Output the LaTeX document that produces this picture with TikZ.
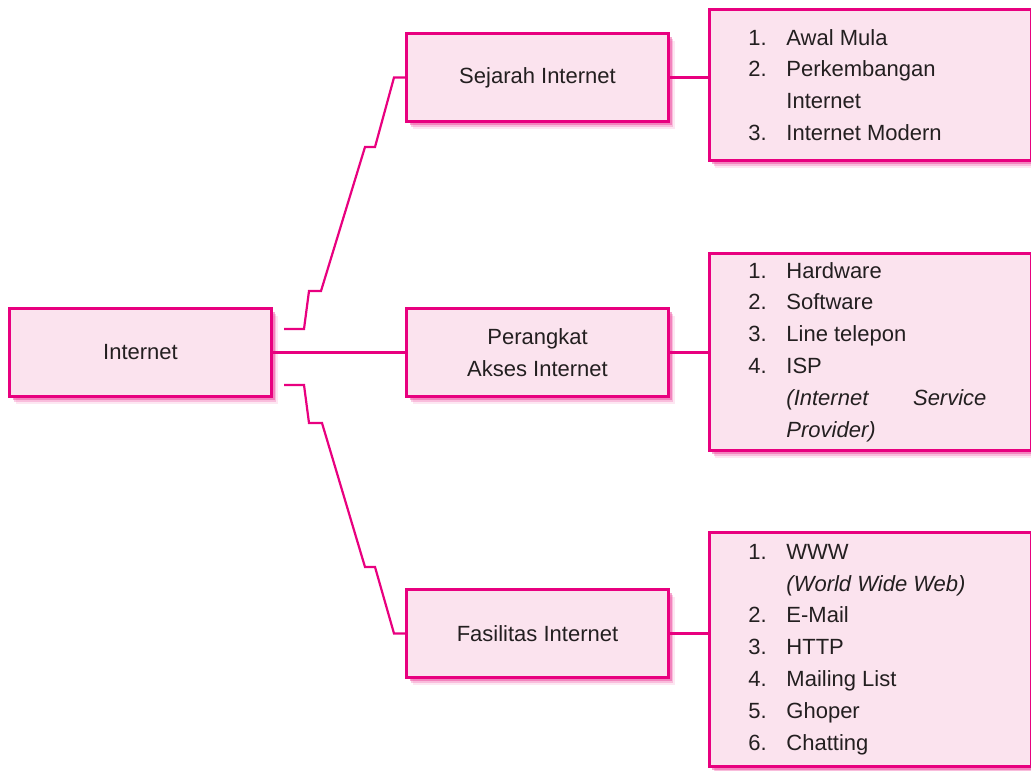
\documentclass[tikz,border=0pt]{standalone}
\usepackage{fontspec}
\setmainfont{Liberation Sans}
\usepackage{enumitem}
\usepackage{tikz}
\usetikzlibrary{calc,shadows}
\definecolor{framecolor}{HTML}{E8007F}
\definecolor{boxfill}{HTML}{FBE3EE}
\definecolor{shadowpink}{HTML}{EC3D97}
\definecolor{inkcolor}{HTML}{231F20}
\tikzstyle{mainbox} = [
    draw=framecolor,
    fill=boxfill,
    line width=2.8pt,
    rectangle,
    inner sep=0pt,
    minimum width=262pt,
    minimum height=88pt,
    align=center,
    drop shadow={shadow xshift=6pt, shadow yshift=-7pt, fill=shadowpink, opacity=0.12},
    drop shadow={shadow xshift=4.5pt, shadow yshift=-5pt, fill=shadowpink, opacity=0.25},
    drop shadow={shadow xshift=3pt, shadow yshift=-3pt, fill=shadowpink, opacity=0.45}
    ]
\tikzstyle{listbox} = [
    mainbox,
    minimum width=316pt,
    inner xsep=39pt
    ]
\tikzstyle{link} = [
    draw=framecolor,
    line width=2.2pt
    ]
\newcommand{\bigtext}{\fontsize{22}{31.8}\selectfont}
\setlist[enumerate]{label=\arabic*., leftmargin=38pt, labelwidth=38pt,
    labelsep=0pt, align=left, itemsep=0pt, topsep=0pt, parsep=0pt, partopsep=0pt}

\begin{document}
\begin{tikzpicture}[x=1pt,y=-1pt,font=\bigtext,text=inkcolor]
\useasboundingbox (0,0) rectangle (1031,771);

% topic boxes
\node[mainbox] (inet) at (140.5,352.5) {Internet};
\node[mainbox] (sejarah) at (537.5,77.5) {Sejarah Internet};
\node[mainbox] (akses) at (537.5,352.5) {Perangkat\\Akses Internet};
\node[mainbox] (fasilitas) at (537.5,633.5) {Fasilitas Internet};

% lists
\node[listbox, minimum height=151pt] (sejarahlist) at (870.5,85) {%
    \begin{minipage}{238pt}
    \begin{enumerate}
    \item Awal Mula
    \item Perkembangan\\Internet
    \item Internet Modern
    \end{enumerate}
    \end{minipage}
};
\node[listbox, minimum height=197pt] (akseslist) at (870.5,352) {%
    \begin{minipage}{238pt}
    \begin{enumerate}
    \item Hardware
    \item Software
    \item Line telepon
    \item ISP\\\textit{(Internet\hfill Service\\Provider)}
    \end{enumerate}
    \end{minipage}
};
\node[listbox, minimum height=234pt] (fasilitaslist) at (870.5,649.5) {%
    \begin{minipage}{238pt}
    \begin{enumerate}
    \item WWW\\\textit{(World Wide Web)}
    \item E-Mail
    \item HTTP
    \item Mailing List
    \item Ghoper
    \item Chatting
    \end{enumerate}
    \end{minipage}
};

% branches
\coordinate (upstart) at (284,329);
\coordinate (downstart) at (284,385);
\draw[link] (upstart) -- (304,329) -- (309,291) -- (321,291) -- (365,147)
    -- (375,147) -- (394,77.5) -- (sejarah.west);
\draw[link] (inet) -- (akses);
\draw[link] (downstart) -- (304,385) -- (309,423) -- (322,423) -- (365,567)
    -- (375,567) -- (394,633.5) -- (fasilitas.west);

\draw[link] (sejarah.east) -- (sejarah.east -| sejarahlist.west);
\draw[link] (akses.east) -- (akses.east -| akseslist.west);
\draw[link] (fasilitas.east) -- (fasilitas.east -| fasilitaslist.west);
\end{tikzpicture}
\end{document}
